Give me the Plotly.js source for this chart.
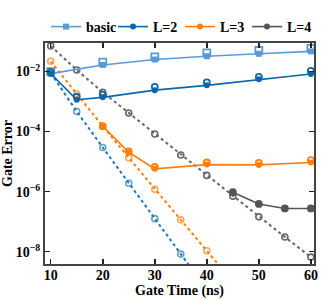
<!DOCTYPE html>
<html>
<head>
<meta charset="utf-8">
<script src="https://cdn.plot.ly/plotly-3.0.1.min.js"></script>
<style>html,body{margin:0;padding:0;background:#fff}#chart{width:325px;height:300px}</style>
</head>
<body>
<div id="chart"></div>
<script>
// ---- data (log10 of gate error) ----
const basicX = [10, 20, 30, 40, 50, 60];
const basicLog = [-2.07, -1.78, -1.60, -1.49, -1.41, -1.33];
const basicOpenLog = [-2.00, -1.69, -1.51, -1.38, -1.30, -1.23];

const l2X = [10, 15, 20, 30, 40, 50, 60];
const l2Log = [-2.07, -2.94, -2.86, -2.62, -2.46, -2.26, -2.08];
const l2OpenLog = [-2.02, -2.84, -2.77, -2.51, -2.36, -2.18, -1.98];
const l2FitX = [10, 15, 20, 25, 30, 35, 40];
const l2FitLog = [-2.05, -3.33, -4.53, -5.72, -6.90, -8.08, -9.26];
const l2FitPoints = 6; // last entry only continues the dotted line

const l3X = [20, 25, 30, 40, 50, 60];
const l3Log = [-3.82, -4.69, -5.24, -5.10, -5.11, -5.03];
const l3OpenLog = [-3.82, -4.66, -5.18, -5.03, -5.04, -4.95];
const l3FitX = [10, 15, 20, 25, 30, 35, 40, 45];
const l3FitLog = [-1.66, -2.75, -3.82, -4.87, -5.92, -6.94, -7.97, -9.00];
const l3FitPoints = 7;

const l4X = [45, 50, 55, 60];
const l4Log = [-6.02, -6.41, -6.56, -6.56];
const l4FitX = [10, 15, 20, 25, 30, 35, 40, 45, 50, 55, 60];
const l4FitLog = [-1.15, -1.95, -2.69, -3.38, -4.08, -4.78, -5.46, -6.15, -6.84, -7.51, -8.18];

const yTickVals = [1e-8, 1e-6, 1e-4, 1e-2];
const yTickText = ['10<sup>−8</sup>', '10<sup>−6</sup>', '10<sup>−4</sup>', '10<sup>−2</sup>'];
const xTickVals = [10, 20, 30, 40, 50, 60];

// ---- helpers ----
const pw = a => a.map(v => Math.pow(10, v));
const sizes = (n, total, s) => Array.from({length: total}, (_, i) => i < n ? s : 0);

const C = {basic: '#5b9bd5', l2: '#0d66a6', l2fit: '#1f77b4', l3: '#ff7f0e', l4: '#555555', l4fit: '#666666'};
const FONT = 'Liberation Serif, Times New Roman, serif';

const traces = [
  // dotted fits (drawn first)
  {x: l2FitX, y: pw(l2FitLog), mode: 'lines+markers', showlegend: false,
   line: {color: C.l2fit, width: 2, dash: 'dot'},
   marker: {symbol: 'circle-open', size: sizes(l2FitPoints, l2FitX.length, 6), color: C.l2fit, line: {width: 1.6}}},
  {x: l3FitX, y: pw(l3FitLog), mode: 'lines+markers', showlegend: false,
   line: {color: C.l3, width: 2, dash: 'dot'},
   marker: {symbol: 'circle-open', size: sizes(l3FitPoints, l3FitX.length, 6), color: C.l3, line: {width: 1.6}}},
  {x: l4FitX, y: pw(l4FitLog), mode: 'lines+markers', showlegend: false,
   line: {color: C.l4fit, width: 2, dash: 'dot'},
   marker: {symbol: 'circle-open', size: 6, color: C.l4fit, line: {width: 1.6}}},
  // solid series
  {x: basicX, y: pw(basicLog), mode: 'lines+markers', name: 'basic',
   line: {color: C.basic, width: 1.6}, marker: {symbol: 'square', size: 6, color: C.basic}},
  {x: basicX, y: pw(basicOpenLog), mode: 'markers', showlegend: false,
   marker: {symbol: 'square-open', size: 7, color: C.basic, line: {width: 1.8}}},
  {x: l2X, y: pw(l2Log), mode: 'lines+markers', name: 'L=2',
   line: {color: C.l2, width: 1.6}, marker: {symbol: 'circle', size: 6, color: C.l2}},
  {x: l2X, y: pw(l2OpenLog), mode: 'markers', showlegend: false,
   marker: {symbol: 'circle-open', size: 6, color: C.l2, line: {width: 1.8}}},
  {x: l3X, y: pw(l3Log), mode: 'lines+markers', name: 'L=3',
   line: {color: C.l3, width: 1.6}, marker: {symbol: 'circle', size: 6, color: C.l3}},
  {x: l3X, y: pw(l3OpenLog), mode: 'markers', showlegend: false,
   marker: {symbol: 'circle-open', size: 6, color: C.l3, line: {width: 1.8}}},
  {x: l4X, y: pw(l4Log), mode: 'lines+markers', name: 'L=4',
   line: {color: C.l4, width: 1.6}, marker: {symbol: 'circle', size: 6, color: C.l4}},
  {x: l4X, y: pw(l4Log), mode: 'markers', showlegend: false,
   marker: {symbol: 'circle-open', size: 6, color: C.l4, line: {width: 1.8}}}
];

const axisCommon = {
  showline: true, linecolor: '#444', linewidth: 2, mirror: 'ticks',
  ticks: 'inside', ticklen: 5, tickwidth: 1.5, tickcolor: '#222',
  showgrid: false, zeroline: false,
  tickfont: {family: FONT, size: 14, color: '#000', weight: 'bold'}
};

const layout = {
  width: 325, height: 300,
  margin: {l: 45, r: 11, t: 24, b: 36},
  paper_bgcolor: '#fff', plot_bgcolor: '#fff',
  font: {family: FONT, size: 14, color: '#000', weight: 'bold'},
  xaxis: Object.assign({}, axisCommon, {
    range: [8.9, 60.6], tickvals: xTickVals, ticklabelstandoff: -3,
    title: {text: 'Gate Time (ns)', font: {family: FONT, size: 14, weight: 'bold'}, standoff: 0}
  }),
  yaxis: Object.assign({}, axisCommon, {
    type: 'log', range: [-8.41, -1.05], tickvals: yTickVals, ticktext: yTickText,
    title: {text: 'Gate Error', font: {family: FONT, size: 14, weight: 'bold'}, standoff: 2}
  }),
  legend: {orientation: 'h', x: 1.0, xanchor: 'right', y: 1.0, yanchor: 'bottom',
    font: {family: FONT, size: 14, weight: 'bold'}, itemwidth: 30,
    entrywidth: 22, entrywidthmode: 'pixels', tracegroupgap: 0,
    bgcolor: 'rgba(0,0,0,0)'},
  showlegend: true
};

Plotly.newPlot('chart', traces, layout, {displayModeBar: false, staticPlot: true});
</script>
</body>
</html>
